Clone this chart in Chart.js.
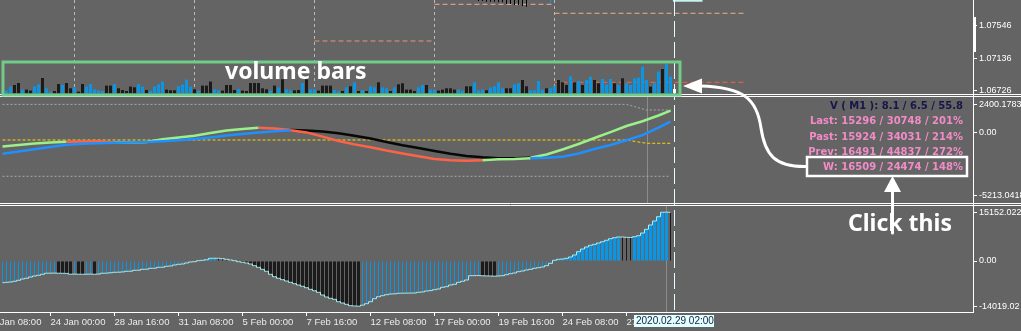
<!DOCTYPE html>
<html>
<head>
<meta charset="utf-8">
<script src="https://cdn.jsdelivr.net/npm/chart.js@4.4.1/dist/chart.umd.min.js"></script>
<style>
  html, body { margin: 0; padding: 0; background: #646464; overflow: hidden; }
</style>
</head>
<body>
<canvas id="myChart" width="1021" height="331"></canvas>
<script>
// ---- x axis (H4 bars, index 0 = first visible bar) ----
const xTickIdx = [-4, 12, 28, 44, 60, 76, 92, 108, 124, 140, 156];
const xTickText = ['21 Jan 08:00', '24 Jan 00:00', '28 Jan 16:00', '31 Jan 08:00', '5 Feb 00:00', '7 Feb 16:00',
                   '12 Feb 08:00', '17 Feb 00:00', '19 Feb 16:00', '24 Feb 08:00', '27 Feb 00:00'];
const weekStarts = [18, 48, 78, 108, 138];
const currentBar = 168;
const currentTime = '2020.02.29 02:00';

// ---- main window: price scale, tick volume, candle lows, weekly levels ----
const priceTicks = [1.07546, 1.07136, 1.06726];
const volVals = [2,2.7,6.7,8.3,10.3,3.7,3.7,2.7,6.7,9,
  15.3,5,1.7,2.3,9.3,8.3,10.3,5,6,1.7,
  9.3,6.7,9.3,4,3,2.3,7.7,7.7,9.3,5,
  3.3,2.3,6.7,6,9.3,6.7,3.3,2.3,6.7,9,
  11.7,3.7,3,3,7.3,8.7,13.7,6.7,4,2.7,
  7.7,7.7,11.7,4,3,2.7,8.3,8.3,3.3,4.3,
  2.7,2.3,10.3,10.3,10.3,5,4,2.7,7.7,5.7,
  14,4,3,3,3.3,10.3,14,4,4,2.7,
  7.7,7.7,7.7,3.3,2,2.3,6,7,11,2.3,
  3.3,2.3,7,6,11,6,5,2.3,6,9,
  10,3.7,3.7,2.3,6,8.3,8.3,3.7,3.7,2.7,
  3.7,5,5,3.7,3.7,2.7,7,7,11,3,
  3.7,3,6,7,11,5,5,5,9,10,
  13.3,7,3,3,12.3,3.7,5,5,7.7,13.3,
  11,8.3,17,11,12.3,8.3,13.3,16.7,13.3,10,
  14.3,9,14.3,10,8.3,15,10,8.3,15,15.7,
  26.7,13.3,6.7,10,21.7,24.3,29.3,16.7,4.3];
const volBull = [1,1,1,0,0,1,0,0,1,1,
  0,1,1,0,0,1,0,0,1,0,
  0,1,1,1,1,1,0,0,1,0,
  0,0,0,0,1,1,0,1,1,1,
  1,0,0,0,1,1,1,1,0,1,
  0,0,0,1,1,0,0,0,0,1,
  0,0,0,0,0,0,0,1,0,1,
  0,1,1,0,0,1,0,1,1,0,
  0,0,0,1,1,0,1,0,1,0,
  1,0,1,1,0,1,1,0,1,0,
  0,0,0,0,1,1,0,1,1,0,
  0,0,0,0,1,1,0,0,1,1,
  1,0,1,1,1,1,0,0,1,1,
  0,0,1,1,1,1,0,1,1,0,
  0,0,1,0,1,0,1,1,0,0,
  1,1,1,0,1,0,1,1,1,1,
  1,1,0,1,1,0,1,1,1];
const candleIdx  = [119, 120, 121, 122, 123, 124, 125, 126, 127, 128, 129, 130, 131, 137];
const candleLow  = [1.07863, 1.07863, 1.07854, 1.07854, 1.07854, 1.07846, 1.07846, 1.07825, 1.07825,
                    1.07812, 1.07812, 1.07799, 1.07791, 1.07841];
const candleHigh = [1.0812, 1.0809, 1.0806, 1.0803, 1.0801, 1.0800, 1.0799, 1.0797, 1.0796,
                    1.0795, 1.0794, 1.0794, 1.0793, 1.0812];
const candleBull = [0, 0, 0, 0, 0, 0, 0, 0, 0, 0, 0, 0, 0, 1];
const lvlFrom  = [78, 108, 138, 138];
const lvlTo    = [108, 138, 185.5, 185.5];
const lvlPrice = [1.07356, 1.07821, 1.07707, 1.06833];
const bidIdx = [167.6, 175], bidPrice = [1.07866, 1.07866];

// ---- indicator window 1 ----
const indTicks = [2400.1783, 0, -5213.0418];
const indTickText = ['2400.1783', '0.00', '-5213.0418'];
const midIdx = [0,4,8,12,16,20,24,28,32,36,40,44,48,52,56,60,64,68,72,76,80,84,
  88,92,96,100,104,108,112,116,120,124,128,132,136,140,144,148,152,156,160,164,167];
const upperVals = [-1133,-1007,-881,-797,-738,-713,-696,-800,-789,-755,-520,-378,-235,0,218,336,445,369,252,201,126,-17,
  -226,-461,-755,-1032,-1259,-1510,-1745,-1930,-2039,-2114,-2123,-2081,-1804,-1384,-923,-420,67,587,982,1468,1871];
const lowerVals = [-1745,-1552,-1368,-1175,-990,-906,-864,-822,-789,-755,-688,-604,-512,-378,-201,-84,34,151,227,50,-302,-671,
  -956,-1191,-1468,-1712,-1955,-2173,-2282,-2324,-2290,-2207,-2181,-2114,-2081,-1988,-1720,-1342,-1007,-612,-185,461,948];
const upperRuns = [[0, '#9cf08c'], [16, '#ff6347'], [28, '#9cf08c'], [64, '#ff6347'], [72, '#080808'], [132, '#9cf08c']];
const lowerRuns = [[0, '#1e90ff'], [72, '#ff6347'], [120, '#9cf08c'], [132, '#1e90ff']];
const hiBandIdx = [0, 156, 161, 167], hiBand = [2400.18, 2400.18, 1930, 1930];
const loBandIdx = [0, 167], loBand = [-3633, -3633];
const midLvlIdx = [0, 156, 161, 167], midLvl = [-587, -587, -864, -864];
const infoLines = ['V ( M1 ): 8.1 / 6.5 / 55.8', 'Last: 15296 / 30748 / 201%', 'Past: 15924 / 34031 / 214%',
                   'Prev: 16491 / 44837 / 272%', 'W: 16509 / 24474 / 148%'];
const infoColors = ['#16164a', '#f28cc8', '#f28cc8', '#f28cc8', '#f28cc8'];

// ---- indicator window 2 (histogram) ----
const oscTicks = [15152.022, 0, -14019.02];
const oscTickText = ['15152.022', '0.00', '-14019.02'];
const oscVals = [-6730,-6620,-6520,-6300,-5990,-5590,-5370,-4970,-4660,-4440,
  -4130,-3800,-3780,-3760,-3790,-3820,-3850,-4100,-4080,-4100,
  -4120,-4100,-4080,-4110,-4050,-3800,-3780,-3650,-3510,-3480,
  -3400,-3200,-3180,-2890,-2870,-2580,-2560,-2270,-2250,-1960,
  -1940,-1650,-1550,-1240,-1030,-930,-620,-310,-210,100,
  210,400,830,850,830,720,520,310,100,-210,
  -410,-620,-930,-1450,-1960,-2580,-3200,-4130,-4870,-5370,
  -5800,-6210,-6620,-7040,-7450,-7850,-8290,-8790,-9220,-9720,
  -10550,-11170,-11580,-11890,-12630,-13040,-13440,-13870,-13960,-14019.02,
  -13700,-13250,-12630,-11700,-11080,-10770,-10460,-10240,-10200,-10030,
  -10000,-9980,-9960,-9930,-9720,-9600,-9310,-9200,-8900,-8690,
  -8170,-7970,-7450,-7240,-6620,-6300,-5900,-4560,-4540,-4520,
  -4580,-4630,-4660,-4700,-4650,-4560,-4250,-3940,-3720,-3320,
  -3100,-2790,-2580,-2270,-2080,-1860,-1450,-720,210,520,
  620,830,1240,1860,2890,3720,4350,4870,5180,5590,
  5990,6430,6920,7230,7450,7430,7330,7300,7540,7850,
  8690,9840,11170,12420,13750,15120,15152.022,15100];

const notes = ['volume bars', 'Click this'];

const BLUE = '#0a96e6', DARK = '#1b1b1b';
const axisFont = { family: "'Liberation Sans', Arial, sans-serif", size: 9 };
const timeFont = { family: "'Liberation Sans Narrow', 'Liberation Sans', Arial, sans-serif", size: 9.5 };

function runColor(runs, x) {
  let c = runs[0][1];
  for (const r of runs) if (x >= r[0]) c = r[1];
  return c;
}
const pts = (xs, ys) => xs.map((x, i) => ({ x: x, y: ys[i] }));

const oscRise = oscVals.map((v, i) => i === 0 || v >= oscVals[i - 1]);
const oscGrow = oscVals.map((v, i) => i > 0 && Math.abs(v) > Math.abs(oscVals[i - 1]));

const lineBase = { type: 'line', pointRadius: 0, borderWidth: 1, tension: 0, fill: false };

const datasets = [
  // weekly levels on the price chart
  ...lvlPrice.map((p, k) => Object.assign({}, lineBase, {
    yAxisID: 'yPrice', order: 20,
    data: [{ x: lvlFrom[k], y: p }, { x: lvlTo[k], y: p }],
    borderColor: k === 0 ? '#e8916f' : (k === 3 ? '#ff5f3f' : '#f6ad8c'),
    borderDash: [5, 3]
  })),
  Object.assign({}, lineBase, { yAxisID: 'yPrice', order: 14, borderWidth: 2, borderColor: '#c8f0f0', data: pts(bidIdx, bidPrice) }),
  {
    type: 'bar', yAxisID: 'yVol', order: 15, grouped: false, barThickness: 3, inflateAmount: 0,
    data: pts(volVals.map((v, i) => i), volVals),
    backgroundColor: volVals.map((v, i) => i === currentBar ? '#f0ffff' : (volBull[i] ? BLUE : DARK))
  },
  {
    type: 'bar', yAxisID: 'yPrice', order: 15, grouped: false, barThickness: 1, inflateAmount: 0,
    data: candleIdx.map((x, i) => ({ x: x, y: [candleLow[i], candleHigh[i]] })),
    backgroundColor: candleBull.map(b => b ? BLUE : '#000000')
  },
  // histogram: thick bars while |value| grows, thin ones otherwise
  {
    type: 'bar', yAxisID: 'yOsc', order: 12, grouped: false, barThickness: 3, inflateAmount: 0,
    data: oscVals.map((v, i) => ({ x: i, y: oscGrow[i] ? v : null })),
    backgroundColor: oscRise.map(r => r ? BLUE : DARK)
  },
  {
    type: 'bar', yAxisID: 'yOsc', order: 12, grouped: false, barThickness: 1, inflateAmount: 0,
    data: oscVals.map((v, i) => ({ x: i, y: oscGrow[i] ? null : v })),
    backgroundColor: oscRise.map(r => r ? BLUE : DARK)
  },
  Object.assign({}, lineBase, {
    yAxisID: 'yOsc', order: 10, stepped: 'middle', borderColor: '#a8eef2',
    data: pts(oscVals.map((v, i) => i), oscVals)
  }),
  // indicator window 1
  Object.assign({}, lineBase, { yAxisID: 'yInd', order: 9, borderColor: '#a8a8a8', borderDash: [2, 2], data: pts(hiBandIdx, hiBand) }),
  Object.assign({}, lineBase, { yAxisID: 'yInd', order: 9, borderColor: '#a8a8a8', borderDash: [2, 2], data: pts(loBandIdx, loBand) }),
  Object.assign({}, lineBase, { yAxisID: 'yInd', order: 9, borderColor: '#ffd700', borderDash: [3, 2], data: pts(midLvlIdx, midLvl) }),
  Object.assign({}, lineBase, {
    yAxisID: 'yInd', order: 6, borderWidth: 2.5, borderColor: '#9cf08c', data: pts(midIdx, upperVals),
    segment: { borderColor: c => runColor(upperRuns, c.p0.parsed.x) }
  }),
  Object.assign({}, lineBase, {
    yAxisID: 'yInd', order: 5, borderWidth: 2.5, borderColor: '#1e90ff', data: pts(midIdx, lowerVals),
    segment: { borderColor: c => runColor(lowerRuns, c.p0.parsed.x) }
  })
];

function yAxis(weight, min, max, ticks, text) {
  return {
    type: 'linear', position: 'right', stack: 'panes', stackWeight: weight, min: min, max: max,
    afterBuildTicks: s => { s.ticks = ticks.map(v => ({ value: v })); },
    afterFit: s => { s.width = 48; s.paddingTop = 0; s.paddingBottom = 0; },
    ticks: { color: '#ffffff', font: axisFont, padding: 2, callback: (v, i) => text[i] },
    grid: { drawOnChartArea: false, drawTicks: true, tickLength: 4, color: '#ffffff' },
    border: { display: true, color: '#ffffff', width: 1 }
  };
}

const panes = {
  id: 'panes',
  beforeDraw(chart) {
    const ctx = chart.ctx;
    ctx.save();
    ctx.fillStyle = '#646464';
    ctx.fillRect(0, 0, chart.width, chart.height);
    ctx.restore();
  },
  beforeDatasetsDraw(chart) {
    const { ctx, scales: { x, yPrice, yInd, yOsc } } = chart;
    ctx.save();
    ctx.lineWidth = 1;
    // period separators in the main window
    ctx.strokeStyle = '#b8b8b8';
    ctx.setLineDash([3, 3]);
    weekStarts.forEach(i => {
      const px = x.getPixelForValue(i);
      ctx.beginPath(); ctx.moveTo(px, 0); ctx.lineTo(px, yPrice.bottom - 2); ctx.stroke();
    });
    ctx.setLineDash([]);
    ctx.strokeStyle = '#8c8c8c';
    let px = x.getPixelForValue(161.25);
    ctx.beginPath(); ctx.moveTo(px, yInd.top + 1); ctx.lineTo(px, yInd.bottom - 1); ctx.stroke();
    px = x.getPixelForValue(166);
    ctx.beginPath(); ctx.moveTo(px, yOsc.top + 2); ctx.lineTo(px, yOsc.bottom); ctx.stroke();
    ctx.restore();
  },
  afterDatasetsDraw(chart) {
    const { ctx, scales: { x, yPrice, yInd } } = chart;
    ctx.save();
    // current bar line
    const px = x.getPixelForValue(currentBar);
    ctx.strokeStyle = '#e4ffff';
    ctx.lineWidth = 1;
    ctx.setLineDash([16, 5]);
    ctx.beginPath(); ctx.moveTo(px, 0); ctx.lineTo(px, chart.chartArea.bottom); ctx.stroke();
    ctx.setLineDash([]);
    // window separators
    ctx.strokeStyle = '#ffffff';
    [yPrice.bottom - 1.5, yPrice.bottom + 0.5, yInd.bottom - 0.5, yInd.bottom + 1.5].forEach(y => {
      ctx.beginPath(); ctx.moveTo(0, y); ctx.lineTo(chart.width, y); ctx.stroke();
    });
    ctx.restore();
  },
  afterDraw(chart) {
    const { ctx, scales: { x, yPrice } } = chart;
    ctx.save();
    // scroll marker on the price scale
    ctx.fillStyle = '#ffffff';
    ctx.fillRect(yPrice.left, 17, 3, 35);

    // info block
    ctx.font = "bold 10px 'DejaVu Sans', Verdana, sans-serif";
    ctx.textAlign = 'right';
    ctx.textBaseline = 'middle';
    [106, 121.5, 137, 152, 167.5].forEach((y, i) => {
      ctx.fillStyle = infoColors[i];
      ctx.fillText(infoLines[i], 963, y);
    });

    // highlight frame round the volume bars
    ctx.strokeStyle = '#70cc88';
    ctx.lineWidth = 3;
    ctx.strokeRect(3, 62, 677, 33);

    // notes
    ctx.fillStyle = '#ffffff';
    ctx.textAlign = 'left';
    ctx.textBaseline = 'alphabetic';
    ctx.font = "bold 23px 'Noto Sans', 'Open Sans', sans-serif";
    ctx.fillText(notes[0], 225, 79);
    ctx.fillText(notes[1], 848, 231);

    // box round the W line
    ctx.strokeStyle = '#ffffff';
    ctx.lineWidth = 2.5;
    ctx.strokeRect(807, 157, 160, 19);

    // curved arrow to the volume bars
    ctx.lineWidth = 3;
    ctx.lineCap = 'round';
    ctx.beginPath();
    ctx.moveTo(806, 166.5);
    ctx.bezierCurveTo(775, 167, 765, 155, 761, 128);
    ctx.bezierCurveTo(757, 100, 745, 87, 700, 86);
    ctx.stroke();
    ctx.beginPath();
    ctx.moveTo(683, 86); ctx.lineTo(702, 78.5); ctx.lineTo(702, 93.5); ctx.closePath(); ctx.fill();

    // arrow up from "Click this"
    ctx.beginPath(); ctx.moveTo(892.5, 190); ctx.lineTo(892.5, 233); ctx.stroke();
    ctx.beginPath();
    ctx.moveTo(892.5, 176); ctx.lineTo(884, 192); ctx.lineTo(901, 192); ctx.closePath(); ctx.fill();

    // time label of the current bar
    ctx.fillStyle = '#e0ffff';
    ctx.fillRect(634, 315, 80, 12);
    ctx.fillStyle = '#1a1a3a';
    ctx.font = "10px 'Liberation Sans', Arial, sans-serif";
    ctx.textBaseline = 'middle';
    ctx.fillText(currentTime, 636, 321.5);
    ctx.restore();
  }
};

new Chart(document.getElementById('myChart'), {
  type: 'line',
  data: { datasets: datasets },
  options: {
    responsive: false,
    devicePixelRatio: 1,
    animation: false,
    events: [],
    layout: { padding: 0 },
    plugins: { legend: { display: false }, tooltip: { enabled: false } },
    scales: {
      x: {
        type: 'linear', min: -0.625, max: 242.625, offset: false,
        afterBuildTicks: s => { s.ticks = xTickIdx.map(v => ({ value: v })); },
        afterFit: s => { s.height = 19; s.paddingLeft = 0; s.paddingRight = 0; },
        ticks: { color: '#ececec', font: timeFont, align: 'start', maxRotation: 0, minRotation: 0,
                 autoSkip: false, padding: 1, callback: (v, i) => xTickText[i] },
        grid: { display: true, offset: false, drawOnChartArea: false, drawTicks: true, tickLength: 4, color: '#ffffff' },
        border: { display: true, color: '#ffffff', width: 1 }
      },
      yPrice: yAxis(96, 1.066591, 1.078754, priceTicks, priceTicks.map(v => v.toFixed(5))),
      yInd: yAxis(108, -5957, 3104, indTicks, indTickText),
      yOsc: yAxis(108, -15830, 17693, oscTicks, oscTickText),
      yVol: { type: 'linear', display: false, min: -218.7, max: 93.3 }
    }
  },
  plugins: [panes]
});
</script>
</body>
</html>
